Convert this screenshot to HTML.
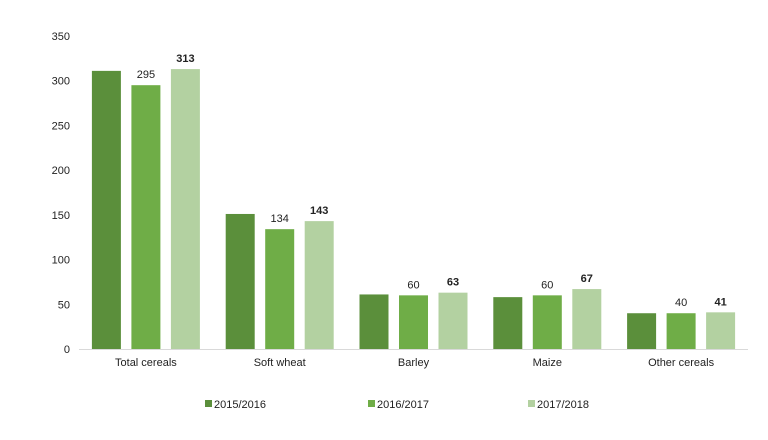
<!DOCTYPE html>
<html><head><meta charset="utf-8"><style>
body{margin:0;background:#fff;font-family:"Liberation Sans",sans-serif;}
svg text{font-family:"Liberation Sans",sans-serif;font-size:11px;fill:#222;}
</style></head><body>
<svg id="chart" width="768" height="435" xmlns="http://www.w3.org/2000/svg"></svg>
<script>
const categories=["Total cereals","Soft wheat","Barley","Maize","Other cereals"];
const seriesNames=["2015/2016","2016/2017","2017/2018"];
const s2015=[311,151,61,58,40];
const s2016=[295,134,60,60,40];
const s2017=[313,143,63,67,41];
const yTicks=[0,50,100,150,200,250,300,350];
const colors=["#5b8f3b","#6fad47","#b3d1a1"];
const series=[s2015,s2016,s2017];
const NS="http://www.w3.org/2000/svg";
const svg=document.getElementById('chart');
const x0=79,x1=748,y0=349,yTop=36,yMax=350;
const y=v=>y0-(v/yMax)*(y0-yTop);
const gw=(x1-x0)/categories.length;
const bw=29,gap=10.5;
function el(t,a){const e=document.createElementNS(NS,t);for(const k in a)e.setAttribute(k,a[k]);svg.appendChild(e);return e;}
yTicks.forEach(t=>{const e=el('text',{x:70,y:y(t)+4,'text-anchor':'end'});e.textContent=t;

});
const ax=el('line',{x1:x0,x2:x1,y1:y0+0.5,y2:y0+0.5,stroke:'#d9d9d9','stroke-width':1});


categories.forEach((c,i)=>{const cx=x0+gw*(i+0.5);
series.forEach((s,j)=>{const bx=cx+(j-1)*(bw+gap)-bw/2;
const r=el('rect',{x:bx,y:y(s[i]),width:bw,height:y0-y(s[i]),fill:colors[j]});


if(j>0){const t=el('text',{x:bx+bw/2,y:y(s[i])-7,'text-anchor':'middle','font-weight':j==2?'bold':'normal'});t.textContent=s[i];

}
});
const l=el('text',{x:cx,y:366,'text-anchor':'middle'});l.textContent=c;


});
const lx=[205,368,528];
seriesNames.forEach((n,j)=>{const r=el('rect',{x:lx[j],y:400,width:7,height:7,fill:colors[j]});


const t=el('text',{x:lx[j]+9,y:408});t.textContent=n;

});
</script>
</body></html>
